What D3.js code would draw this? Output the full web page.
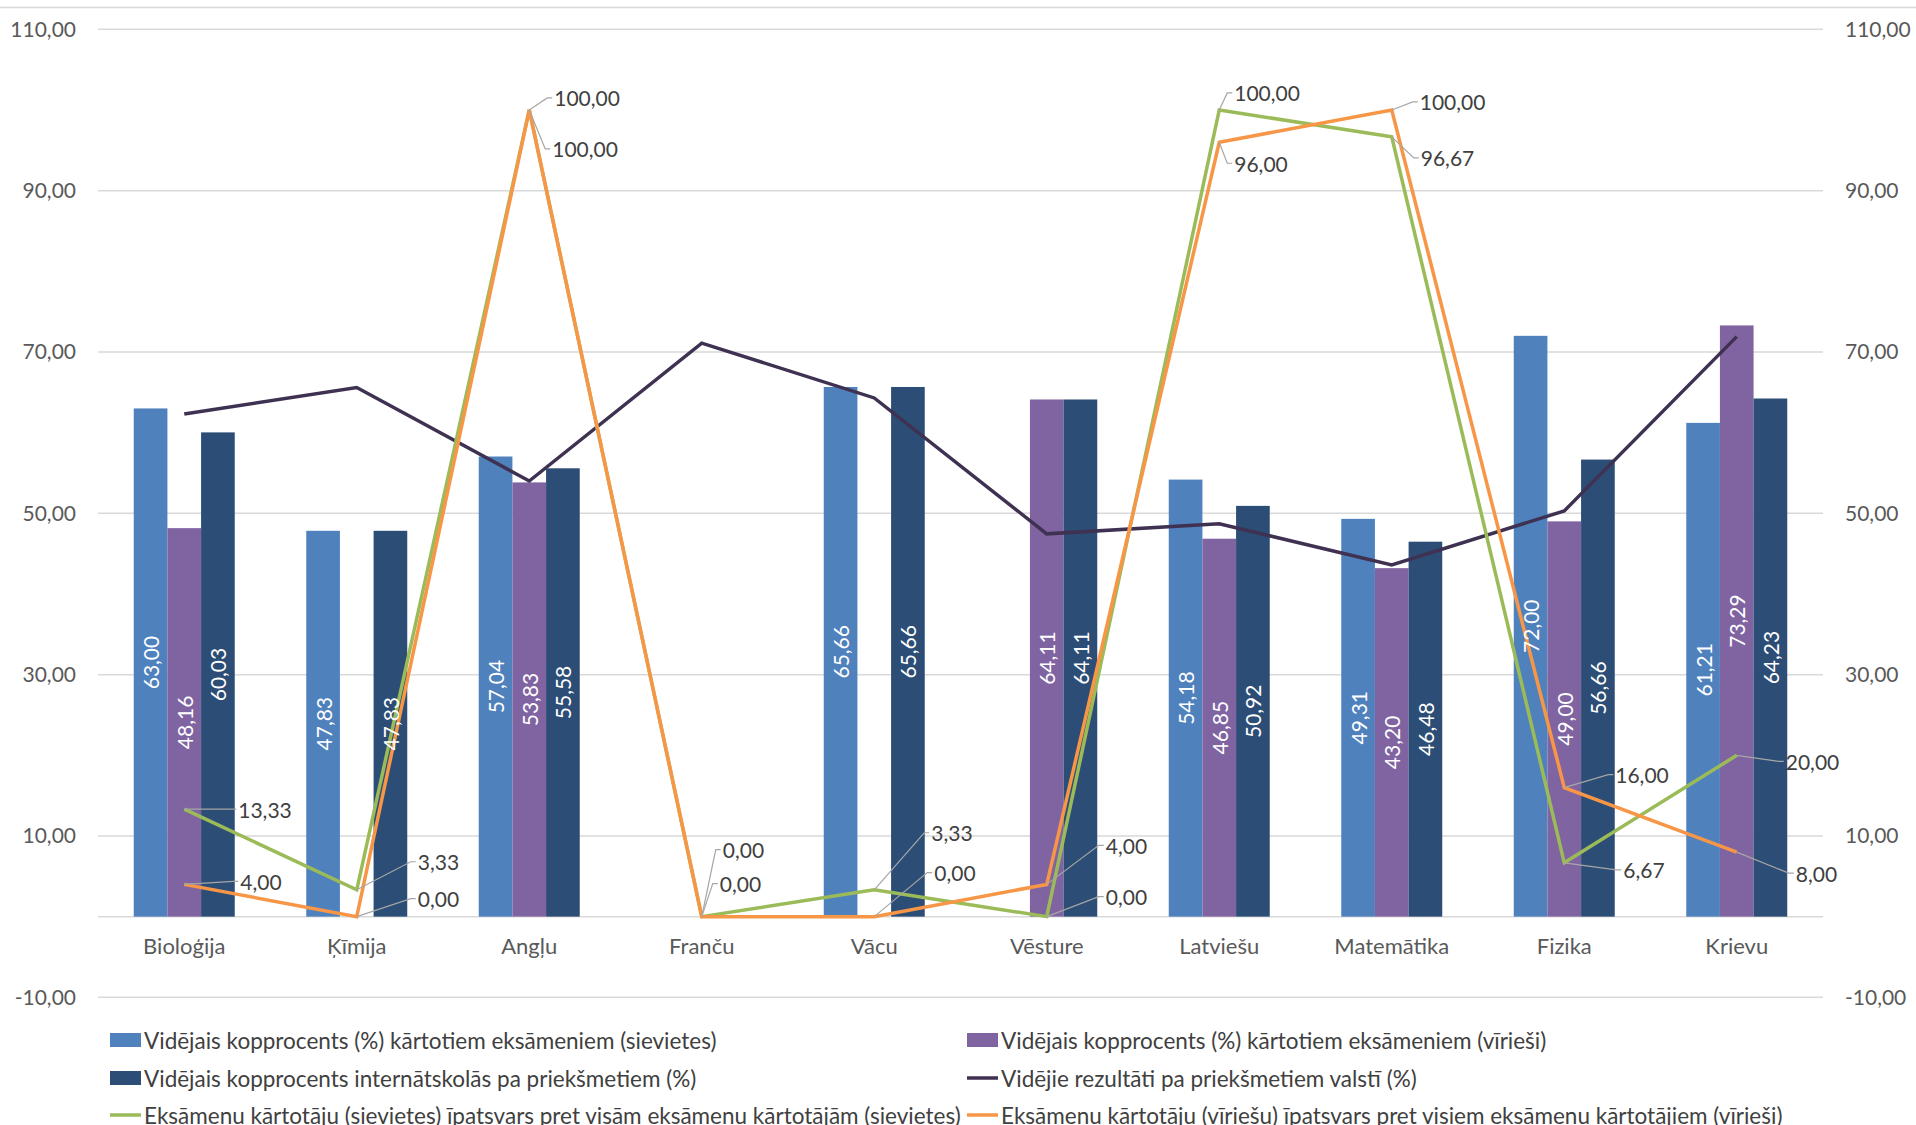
<!DOCTYPE html>
<html><head><meta charset="utf-8">
<script src="https://cdn.jsdelivr.net/npm/d3@7"></script>
<style>
html,body{margin:0;padding:0;background:#fff;}
svg{display:block;font-family:Lato,"Open Sans",sans-serif;}
</style></head>
<body><svg id="chart" width="1916" height="1125"></svg>
<script>
const categories = ["Bioloģija","Ķīmija","Angļu","Franču","Vācu","Vēsture","Latviešu","Matemātika","Fizika","Krievu"];
const femaleAvg   = [63.00, 47.83, 57.04, null, 65.66, null, 54.18, 49.31, 72.00, 61.21];
const maleAvg     = [48.16, null, 53.83, null, null, 64.11, 46.85, 43.20, 49.00, 73.29];
const schoolAvg   = [60.03, 47.83, 55.58, null, 65.66, 64.11, 50.92, 46.48, 56.66, 64.23];
const nationalAvg = [62.3, 65.6, 54.0, 71.1, 64.3, 47.45, 48.7, 43.6, 50.3, 71.9];
const femaleShare = [13.33, 3.33, 100.00, 0.00, 3.33, 0.00, 100.00, 96.67, 6.67, 20.00];
const maleShare   = [4.00, 0.00, 100.00, 0.00, 0.00, 4.00, 96.00, 100.00, 16.00, 8.00];
const yTicks = [-10, 10, 30, 50, 70, 90, 110];
const legendLabels = [
  "Vidējais kopprocents (%) kārtotiem eksāmeniem (sievietes)",
  "Vidējais kopprocents (%) kārtotiem eksāmeniem (vīrieši)",
  "Vidējais kopprocents internātskolās pa priekšmetiem (%)",
  "Vidējie rezultāti pa priekšmetiem valstī (%)",
  "Eksāmenu kārtotāju (sievietes) īpatsvars pret visām eksāmenu kārtotājām (sievietes)",
  "Eksāmenu kārtotāju (vīriešu) īpatsvars pret visiem eksāmenu kārtotājiem (vīrieši)"
];

// layout (label offsets in px relative to the point)
const femaleLabelOff = [[54,0],[61,-28],[25,-12],[21,-67],[57,-57],[59,-20],[15,-17],[29,21],[59,7],[49,6]];
const maleLabelOff   = [[56,-3],[61,-18],[23,39],[18,-33],[60,-44],[59,-39],[15,21],[28,-8],[51,-13],[59,21]];

const colors = {female:"#4f81bd", male:"#8064a2", school:"#2c4d75", national:"#3f3151", fShare:"#9bbb59", mShare:"#f79646"};
const fmt = v => d3.format(".2f")(v).replace(".", ",").replace("\u2212", "-");

const svg = d3.select("#chart");
const left = 98, right = 1823;
const y = d3.scaleLinear().domain([-10,110]).range([997.3, 29.3]);
const x = d3.scaleBand().domain(categories).range([left,right]).paddingInner(0).paddingOuter(0);
const groupW = 101;
const seriesKeys = ["female","male","school"];
const x1 = d3.scaleBand().domain(seriesKeys).range([0,groupW]);

// top border line
svg.append("line").attr("x1",0).attr("x2",1916).attr("y1",7.5).attr("y2",7.5).attr("stroke","#d9d9d9").attr("stroke-width",1.5);

// gridlines
svg.append("g").selectAll("line").data(yTicks).join("line")
  .attr("x1",left).attr("x2",right).attr("y1",d=>y(d)).attr("y2",d=>y(d))
  .attr("stroke","#d9d9d9").attr("stroke-width",1.5);
// category axis at 0
svg.append("line").attr("x1",left).attr("x2",right).attr("y1",y(0)).attr("y2",y(0)).attr("stroke","#d9d9d9").attr("stroke-width",1.5);

// y axes via d3
const axL = d3.axisLeft(y).tickValues(yTicks).tickFormat(fmt).tickSize(0).tickPadding(22);
const axR = d3.axisRight(y).tickValues(yTicks).tickFormat(fmt).tickSize(0).tickPadding(22);
const gL = svg.append("g").attr("transform",`translate(${left},0)`).call(axL);
const gR = svg.append("g").attr("transform",`translate(${right},0)`).call(axR);
[gL,gR].forEach(g=>{g.select(".domain").remove(); g.selectAll("text").attr("font-size",21).attr("fill","#595959").attr("font-family","Lato");});

// x axis labels
const axB = d3.axisBottom(x).tickSize(0).tickPadding(22);
const gB = svg.append("g").attr("transform",`translate(0,${y(0)})`).call(axB);
gB.select(".domain").remove();
gB.selectAll("text").attr("font-size",22).attr("fill","#595959").attr("font-family","Lato");

// bars
const barData = [];
categories.forEach((c,i)=>{
  [["female",femaleAvg[i]],["male",maleAvg[i]],["school",schoolAvg[i]]].forEach(([k,v])=>{
    if(v!==null) barData.push({c,k,v});
  });
});
const gx = c => x(c) + x.bandwidth()/2 - groupW/2;
svg.append("g").selectAll("rect").data(barData).join("rect")
  .attr("x",d=>gx(d.c)+x1(d.k)).attr("width",x1.bandwidth())
  .attr("y",d=>y(d.v)).attr("height",d=>y(0)-y(d.v)).attr("fill",d=>colors[d.k]);

// lines
const lineGen = arr => d3.line().x((d,i)=>x(categories[i])+x.bandwidth()/2).y(d=>y(d))(arr);
[[nationalAvg,colors.national],[femaleShare,colors.fShare],[maleShare,colors.mShare]].forEach(([arr,col])=>{
  svg.append("path").attr("d",lineGen(arr)).attr("fill","none").attr("stroke",col).attr("stroke-width",3.5).attr("stroke-linejoin","miter");
});

// bar labels
svg.append("g").selectAll("text").data(barData).join("text")
  .attr("transform",d=>{const cx=gx(d.c)+x1(d.k)+x1.bandwidth()/2; const cy=(y(d.v)+y(0))/2; return `translate(${cx},${cy}) rotate(-90)`;})
  .attr("text-anchor","middle").attr("dominant-baseline","central")
  .attr("font-size",21).attr("fill","#ffffff").text(d=>fmt(d.v));

// line labels with leader lines
function lineLabels(arr, offs){
  const g = svg.append("g");
  arr.forEach((v,i)=>{
    const px = x(categories[i])+x.bandwidth()/2, py = y(v);
    const lx = px+offs[i][0], ly = py+offs[i][1];
    g.append("path").attr("d",`M${px},${py}L${lx-7},${ly}L${lx-2},${ly}`)
      .attr("fill","none").attr("stroke","#a6a6a6").attr("stroke-width",1.2);
    g.append("text").attr("x",lx).attr("y",ly).attr("dominant-baseline","central")
      .attr("font-size",21).attr("fill","#404040").text(fmt(v));
  });
}
lineLabels(femaleShare, femaleLabelOff);
lineLabels(maleShare, maleLabelOff);

// legend
const legendItems = [
  {t:"rect", c:colors.female, x:110, y:1040},
  {t:"rect", c:colors.male, x:967, y:1040},
  {t:"rect", c:colors.school, x:110, y:1078},
  {t:"line", c:colors.national, x:967, y:1078},
  {t:"line", c:colors.fShare, x:110, y:1115},
  {t:"line", c:colors.mShare, x:967, y:1115}
];
const lg = svg.append("g");
legendItems.forEach((it,i)=>{
  if(it.t==="rect") lg.append("rect").attr("x",it.x).attr("y",it.y-7).attr("width",31).attr("height",14).attr("fill",it.c);
  else lg.append("line").attr("x1",it.x).attr("x2",it.x+31).attr("y1",it.y).attr("y2",it.y).attr("stroke",it.c).attr("stroke-width",3.5);
  lg.append("text").attr("x",it.x+34).attr("y",it.y).attr("dominant-baseline","central")
    .attr("font-size",22.5).attr("fill","#404040").text(legendLabels[i]);
});
</script></body></html>
